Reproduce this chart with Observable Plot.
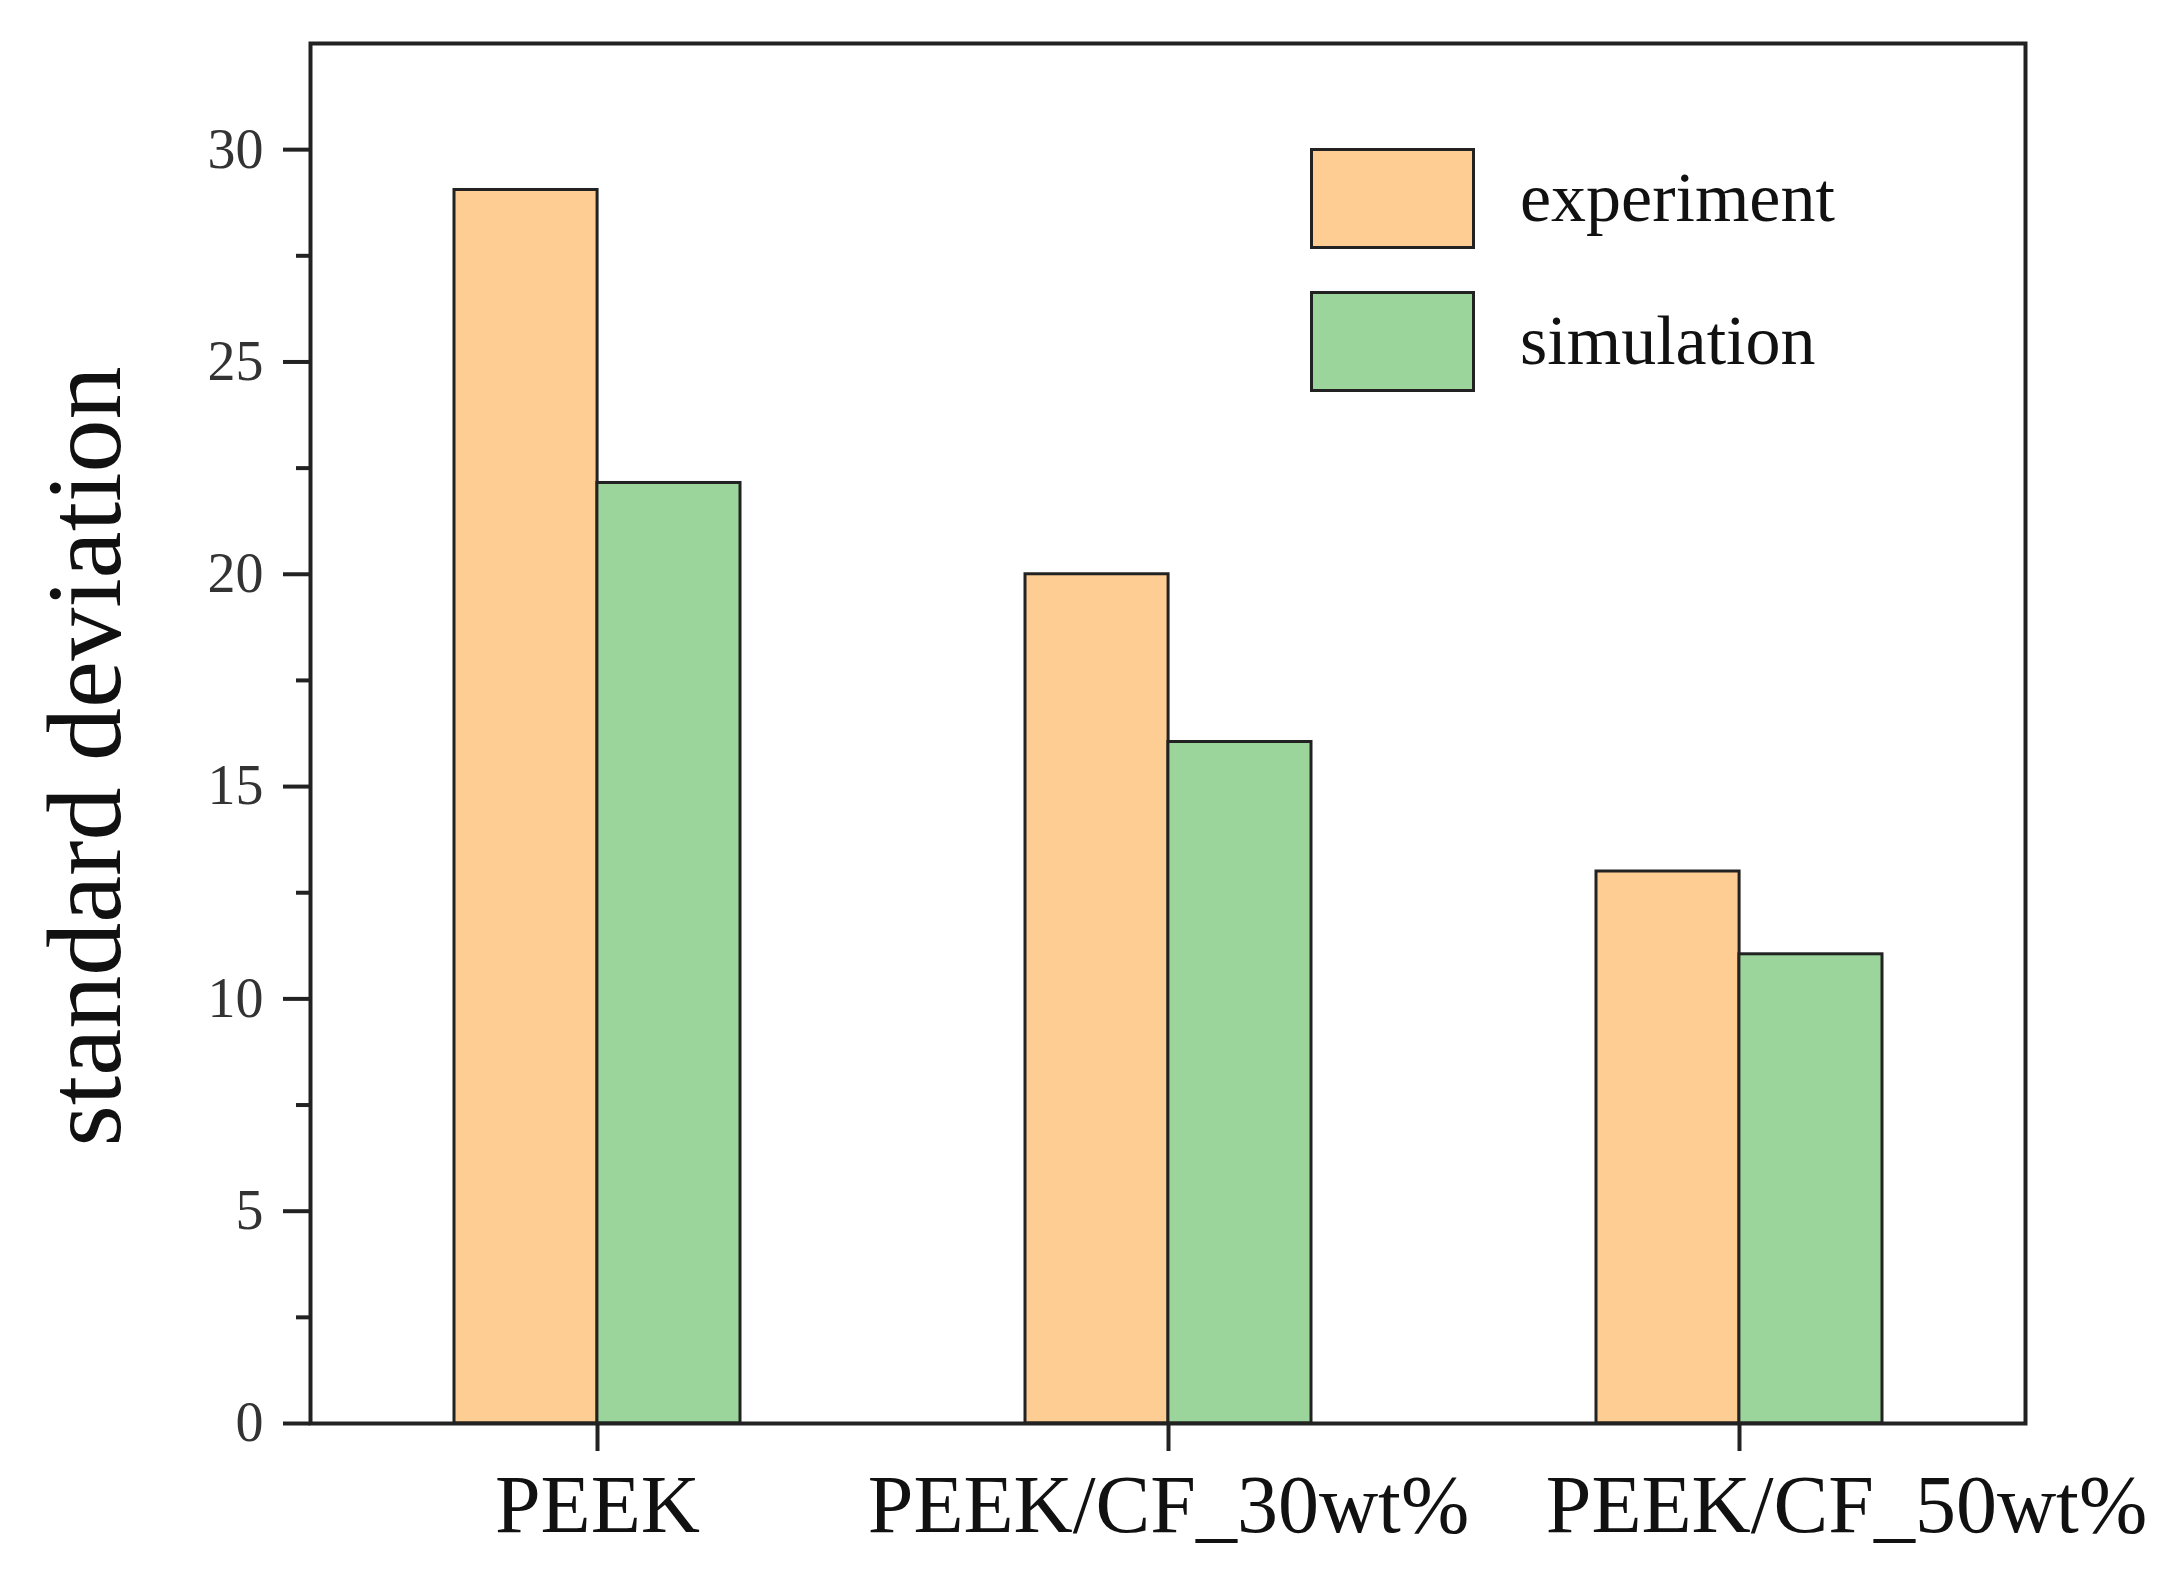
<!DOCTYPE html>
<html>
<head>
<meta charset="utf-8">
<script src="https://cdn.jsdelivr.net/npm/d3@7"></script>
<script src="https://cdn.jsdelivr.net/npm/@observablehq/plot@0.6"></script>
<style>
  body { margin: 0; background: #fff; }
  #wrap { position: relative; width: 2175px; height: 1596px; }
  .lg-sw { position: absolute; box-sizing: border-box; border: 3px solid #222; }
  .lg-tx { position: absolute; font-family: "Liberation Serif", "Times New Roman", serif; font-size: 70px; line-height: 1; color: #111; white-space: nowrap; }
</style>
</head>
<body>
<div id="wrap"></div>
<script>
const categories = ["PEEK", "PEEK/CF_30wt%", "PEEK/CF_50wt%"];
const series = ["experiment", "simulation"];
const experiment = [29.05, 20.0, 13.0];
const simulation = [22.15, 16.05, 11.05];
const colors = ["#FECD93", "#9CD59B"];
const majorTicks = [0, 5, 10, 15, 20, 25, 30];
const minorTicks = [2.5, 7.5, 12.5, 17.5, 22.5, 27.5];

const data = categories.flatMap((c, i) => [
  {category: c, series: series[0], value: experiment[i]},
  {category: c, series: series[1], value: simulation[i]}
]);

const W = 2175, H = 1596;
const mL = 310, mR = 150, mT = 43, mB = 173;
// half of the band (the band holds both bars)
const half = (W - mL - mR) / 3 * 0.5 / 2;

const barStyle = {x: "category", y: "value", fill: "series", stroke: "#222", strokeWidth: 3};

const chart = Plot.plot({
  width: W,
  height: H,
  marginLeft: mL,
  marginRight: mR,
  marginTop: mT,
  marginBottom: mB,
  style: {fontFamily: "Liberation Serif, Times New Roman, serif", overflow: "visible", background: "transparent"},
  x: {domain: categories, paddingInner: 0.5, paddingOuter: 0.25, axis: null},
  y: {domain: [0, 32.5], axis: null},
  color: {domain: series, range: colors},
  marks: [
    Plot.barY(data.filter(d => d.series == series[0]), {...barStyle, insetLeft: 0, insetRight: half}),
    Plot.barY(data.filter(d => d.series == series[1]), {...barStyle, insetLeft: half, insetRight: 0}),
    Plot.frame({stroke: "#222", strokeWidth: 4}),
    Plot.axisY({ticks: majorTicks, tickSize: 27, tickPadding: 20, fontSize: 56, stroke: "#222", strokeWidth: 4, color: "#333", label: null}),
    Plot.axisY({ticks: minorTicks, tickSize: 14, text: null, stroke: "#222", strokeWidth: 4, label: null}),
    Plot.axisX({tickSize: 28, text: null, stroke: "#222", strokeWidth: 4, label: null}),
    Plot.text(categories.slice(0, 2), {x: d => d, frameAnchor: "bottom", lineAnchor: "top", dy: 50, fontSize: 82, fill: "#111"}),
    // the last label sits a bit right of its tick in the original
    Plot.text(categories.slice(2), {x: d => d, frameAnchor: "bottom", lineAnchor: "top", dy: 50, dx: 107, fontSize: 82, fill: "#111"}),
    Plot.text(["standard deviation"], {frameAnchor: "left", textAnchor: "middle", rotate: -90, dx: -224, dy: 23, fontSize: 106, fill: "#111"})
  ]
});

const wrap = d3.select("#wrap");
wrap.append(() => chart);

// legend inside the plot, top right
series.forEach((s, i) => {
  const top = 148 + i * 143;
  wrap.append("div").attr("class", "lg-sw")
    .style("left", "1310px").style("top", top + "px")
    .style("width", "165px").style("height", "101px")
    .style("background", colors[i]);
  wrap.append("div").attr("class", "lg-tx")
    .style("left", "1520px").style("top", (top + 50 - 35) + "px")
    .text(s);
});
</script>
</body>
</html>
